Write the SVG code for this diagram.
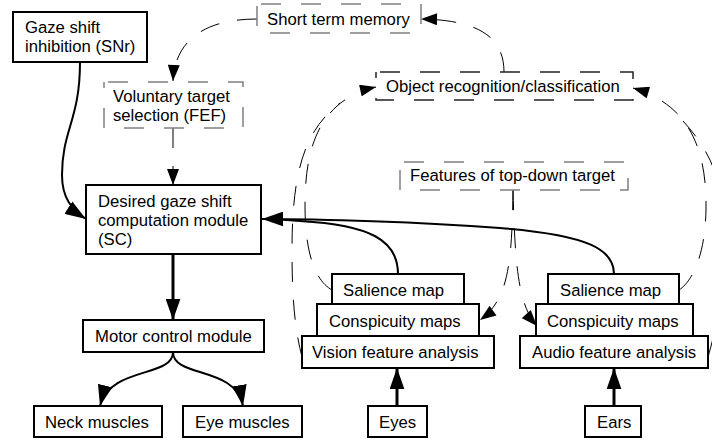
<svg xmlns="http://www.w3.org/2000/svg" width="712" height="441" viewBox="0 0 712 441">
<style>
  text { font-family: "Liberation Sans", Arial, sans-serif; font-size: 16.7px; fill: #000; }
  .box { fill: #fff; stroke: #000; stroke-width: 2; }
  .dbox { fill: none; stroke: #808080; stroke-width: 1.5; stroke-dasharray: 20 20; stroke-dashoffset: 36; }
  .dboxk { fill: none; stroke: #222; stroke-width: 1.5; stroke-dasharray: 20 20; stroke-dashoffset: 36; }
  .solid { fill: none; stroke: #000; stroke-width: 2; }
  .thick { fill: none; stroke: #000; stroke-width: 3; }
  .dash { fill: none; stroke: #000; stroke-width: 1; stroke-dasharray: 20 18; }
</style>
<defs>
  <marker id="ah" markerUnits="userSpaceOnUse" viewBox="0 0 20 14" refX="20" refY="7" markerWidth="21" markerHeight="15" orient="auto">
    <path d="M0,0 L20,7 L0,14 z" fill="#000"/>
  </marker>
  <marker id="ahs" markerUnits="userSpaceOnUse" viewBox="0 0 16 12" refX="16" refY="6" markerWidth="17" markerHeight="12" orient="auto">
    <path d="M0,0 L16,6 L0,12 z" fill="#000"/>
  </marker>
</defs>

<g id="connectors">
  <path class="solid" d="M80,62 C80,120 62,130 62,175 C62,198 72,210 86,219" marker-end="url(#ah)"/>
  <path class="dash" d="M173,128 L173,185" stroke-dasharray="22 18" marker-end="url(#ahs)"/>
  <path class="dash" d="M257,19 C205,19 175,40 173,81" marker-end="url(#ahs)"/>
  <path class="dash" d="M504,72 C504,38 480,20 421,19" marker-end="url(#ahs)"/>
  <path class="dash" d="M332,290 C318,282 305,260 305,205 C305,150 318,100 376,87" marker-end="url(#ahs)"/>
  <path class="dash" d="M302,357 C295,330 292,300 292,250 C292,170 305,130 340,103"/>
  <path class="dash" d="M679,290 C690,283 705,260 706,210 C707,150 690,105 633,88" marker-end="url(#ahs)"/>
  <path class="dash" d="M708,357 C716,330 724,290 724,230 C724,175 705,145 683,121"/>
  <path class="dash" d="M513,190 C512,265 508,300 480,320" stroke-dasharray="20 20" marker-end="url(#ahs)"/>
  <path class="dash" d="M513,190 C515,265 518,305 537,326" stroke-dasharray="20 20" marker-end="url(#ahs)"/>
  <path class="solid" d="M398,274 C398,240 370,225 300,221 L280,219.5"/>
  <path class="solid" d="M614,274 C614,250 590,235 500,228 C420,222 320,219 262,219" marker-end="url(#ah)"/>
  <path class="thick" d="M173,254 L173,320" marker-end="url(#ah)"/>
  <path class="solid" d="M173,352 C173,378 110,366 100,406" marker-end="url(#ah)"/>
  <path class="solid" d="M173,352 C173,378 236,366 243,406" marker-end="url(#ah)"/>
  <path class="thick" d="M397,406 L397,368" marker-end="url(#ah)"/>
  <path class="thick" d="M614,406 L614,368" marker-end="url(#ah)"/>
</g>

<g id="snr">
  <rect class="box" x="13" y="12" width="134" height="50"/>
  <text x="25" y="33">Gaze shift</text>
  <text x="25" y="52">inhibition (SNr)</text>
</g>
<g id="stm">
  <rect class="dbox" x="257" y="4" width="164" height="29"/>
  <text x="267" y="25">Short term memory</text>
</g>
<g id="fef">
  <rect class="dbox" x="104" y="82" width="139" height="46"/>
  <text x="113" y="102">Voluntary target</text>
  <text x="113" y="121">selection (FEF)</text>
</g>
<g id="objrec">
  <rect class="dboxk" x="376" y="72" width="257" height="28"/>
  <text x="386" y="92">Object recognition/classification</text>
</g>
<g id="features">
  <rect class="dbox" x="400" y="162" width="228" height="28"/>
  <text x="410" y="181">Features of top-down target</text>
</g>
<g id="sc">
  <rect class="box" x="86" y="185" width="175" height="69"/>
  <text x="98" y="207">Desired gaze shift</text>
  <text x="98" y="226">computation module</text>
  <text x="98" y="245">(SC)</text>
</g>
<g id="motor">
  <rect class="box" x="83" y="320" width="181" height="32"/>
  <text x="95" y="342">Motor control module</text>
</g>
<g id="neck">
  <rect class="box" x="34" y="406" width="128" height="31"/>
  <text x="45" y="428">Neck muscles</text>
</g>
<g id="eyemuscles">
  <rect class="box" x="183" y="406" width="119" height="31"/>
  <text x="195" y="428">Eye muscles</text>
</g>
<g id="vision-feature">
  <rect class="box" x="302" y="336" width="192" height="32"/>
  <text x="312" y="358">Vision feature analysis</text>
</g>
<g id="vision-conspicuity">
  <rect class="box" x="317" y="304" width="162" height="32"/>
  <text x="329" y="327">Conspicuity maps</text>
</g>
<g id="vision-salience">
  <rect class="box" x="332" y="274" width="132" height="30"/>
  <text x="343" y="296">Salience map</text>
</g>
<g id="audio-feature">
  <rect class="box" x="520" y="336" width="188" height="32"/>
  <text x="532" y="358">Audio feature analysis</text>
</g>
<g id="audio-conspicuity">
  <rect class="box" x="536" y="304" width="157" height="32"/>
  <text x="547" y="327">Conspicuity maps</text>
</g>
<g id="audio-salience">
  <rect class="box" x="548" y="274" width="131" height="30"/>
  <text x="560" y="296">Salience map</text>
</g>
<g id="eyes">
  <rect class="box" x="368" y="406" width="59" height="31"/>
  <text x="379" y="428">Eyes</text>
</g>
<g id="ears">
  <rect class="box" x="585" y="406" width="56" height="31"/>
  <text x="597" y="428">Ears</text>
</g>
</svg>
